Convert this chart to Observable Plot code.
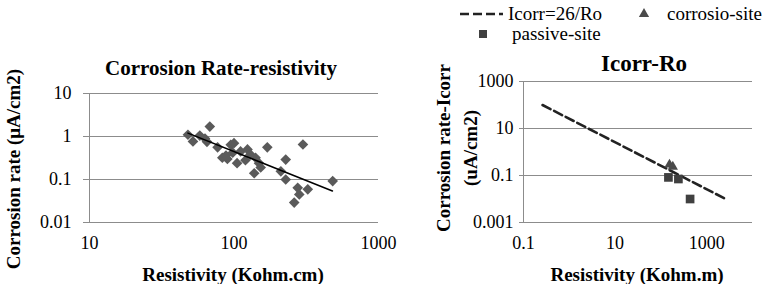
<!DOCTYPE html>
<html><head><meta charset="utf-8">
<script src="https://cdn.jsdelivr.net/npm/d3@7"></script>
<script src="https://cdn.jsdelivr.net/npm/@observablehq/plot@0.6"></script>
<style>
body{margin:0;background:#fff;}
#wrap{position:relative;width:775px;height:284px;overflow:hidden;background:#fff;font-family:'Liberation Serif',serif;}
#wrap svg{position:absolute;top:0;overflow:visible;font-family:'Liberation Serif',serif;}
#wrap svg text{font-family:'Liberation Serif',serif;}
</style></head><body><div id="wrap"></div>
<script>
const FONT = "Liberation Serif";
const GRID = "#8c8c8c";

// ---- Left panel: Corrosion Rate-resistivity ----
const resistivity   = [48, 52, 68, 63, 65, 58, 77, 83, 90, 95, 100, 105, 111, 124, 130, 141, 149, 138, 153, 170, 211, 228, 228, 300, 276, 324, 261, 482, 283, 88, 98, 120];
const corrosionRate = [1.1, 0.77, 1.7, 0.9, 0.75, 1.05, 0.56, 0.32, 0.3, 0.64, 0.7, 0.24, 0.45, 0.5, 0.38, 0.32, 0.24, 0.14, 0.19, 0.56, 0.155, 0.29, 0.1, 0.65, 0.064, 0.059, 0.029, 0.092, 0.045, 0.36, 0.42, 0.28];
const trendX = [48, 480];
const trendY = [1.2, 0.054];
const leftXTicks = [10, 100, 1000];
const leftXTickLabels = ["10", "100", "1000"];
const leftYTicks = [0.01, 0.1, 1, 10];
const leftYTickLabels = ["0.01", "0.1", "1", "10"];
const leftTitle = "Corrosion Rate-resistivity";
const leftXTitle = "Resistivity (Kohm.cm)";
const leftYTitle = "Corrosion rate (μA/cm2)";

// ---- Right panel: Icorr-Ro ----
const lineRo = [0.26, 2800];
const lineIcorr = [100, 0.0093];
const corrosionSiteRo = [154, 182];
const corrosionSiteIcorr = [0.29, 0.237];
const passiveSiteRo = [146, 241, 434];
const passiveSiteIcorr = [0.083, 0.071, 0.01];
const rightXTicks = [0.1, 10, 1000];
const rightXTickLabels = ["0.1", "10", "1000"];
const rightYTicks = [0.001, 0.1, 10, 1000];
const rightYTickLabels = ["0.001", "0.1", "10", "1000"];
const rightTitle = "Icorr-Ro";
const rightXTitle = "Resistivity (Kohm.m)";
const rightYTitle = "Corrosion rate-Icorr\n(uA/cm2)";
const legendLabels = ["Icorr=26/Ro", "corrosio-site", "passive-site"];

const wrap = document.getElementById("wrap");
const fmt = (ticks, labels) => d => labels[ticks.indexOf(d)];
const serifize = svg => {
  svg.setAttribute("font-family", FONT);
  svg.querySelectorAll("g, text").forEach(t => t.setAttribute("font-family", FONT));
};

const leftData = resistivity.map((r, i) => ({r, c: corrosionRate[i]}));
const trendData = trendX.map((x, i) => ({x, y: trendY[i]}));

const left = Plot.plot({
  width: 390, height: 284,
  marginLeft: 89, marginRight: 12, marginTop: 93, marginBottom: 62,
  x: {type: "log", domain: [10, 1000]},
  y: {type: "log", domain: [0.01, 10]},
  style: {fontFamily: FONT, background: "transparent", overflow: "visible", color: "#000"},
  marks: [
    Plot.gridY(leftYTicks, {stroke: GRID, strokeOpacity: 1}),
    Plot.ruleX([10], {stroke: GRID}),
    Plot.axisY(leftYTicks, {tickSize: 6, tickPadding: 12, stroke: GRID, fontSize: 18, tickFormat: fmt(leftYTicks, leftYTickLabels), label: null}),
    Plot.axisX(leftXTicks, {tickSize: 0, tickPadding: 14, fontSize: 18, tickFormat: fmt(leftXTicks, leftXTickLabels), label: null}),
    Plot.dot(leftData, {x: "r", y: "c", symbol: "diamond2", r: 4.8, fill: "#5a5a5a"}),
    Plot.line(trendData, {x: "x", y: "y", stroke: "#000", strokeWidth: 1.5}),
    Plot.text([leftTitle], {frameAnchor: "top", dx: -13, dy: -25, lineAnchor: "middle", fontSize: 21, fontWeight: "bold"}),
    Plot.text([leftYTitle], {frameAnchor: "left", rotate: -90, textAnchor: "middle", lineAnchor: "middle", dx: -76, dy: 11, fontSize: 19, fontWeight: "bold"}),
    Plot.text([leftXTitle], {frameAnchor: "bottom", dx: -1, dy: 52, lineAnchor: "middle", fontSize: 19, fontWeight: "bold"})
  ]
});
serifize(left);
left.style.left = "0px";
wrap.appendChild(left);

const lineData = lineRo.map((x, i) => ({x, y: lineIcorr[i]}));
const corrData = corrosionSiteRo.map((x, i) => ({x, y: corrosionSiteIcorr[i]}));
const passData = passiveSiteRo.map((x, i) => ({x, y: passiveSiteIcorr[i]}));

const right = Plot.plot({
  width: 385, height: 284,
  marginLeft: 133, marginRight: 23, marginTop: 81, marginBottom: 62,
  x: {type: "log", domain: [0.1, 10000]},
  y: {type: "log", domain: [0.001, 1000]},
  style: {fontFamily: FONT, background: "transparent", overflow: "visible", color: "#000"},
  marks: [
    Plot.gridY(rightYTicks, {stroke: GRID, strokeOpacity: 1}),
    Plot.ruleX([0.1], {stroke: GRID}),
    Plot.axisY(rightYTicks, {tickSize: 4, tickPadding: 6, stroke: GRID, fontSize: 18, tickFormat: fmt(rightYTicks, rightYTickLabels), label: null}),
    Plot.axisX(rightXTicks, {tickSize: 0, tickPadding: 14, fontSize: 18, tickFormat: fmt(rightXTicks, rightXTickLabels), label: null}),
    Plot.line(lineData, {x: "x", y: "y", stroke: "#222", strokeWidth: 2.6, strokeDasharray: "9,4"}),
    Plot.dot(corrData, {x: "x", y: "y", symbol: "triangle", r: 3.8, fill: "#4a4a4a"}),
    Plot.dot(passData, {x: "x", y: "y", symbol: "square", r: 4.9, fill: "#404040"}),
    Plot.text([rightTitle], {frameAnchor: "top", dx: 6, dy: -18, lineAnchor: "middle", fontSize: 23, fontWeight: "bold"}),
    Plot.text([rightYTitle], {frameAnchor: "left", rotate: -90, textAnchor: "middle", lineAnchor: "middle", lineHeight: 1.42, dx: -69, dy: -4, fontSize: 19, fontWeight: "bold"}),
    Plot.text([rightXTitle], {frameAnchor: "bottom", dx: -1, dy: 52, lineAnchor: "middle", fontSize: 19, fontWeight: "bold"})
  ]
});
serifize(right);
right.style.left = "390px";
wrap.appendChild(right);

// ---- Legend (top right) ----
const leg = d3.create("svg").attr("width", 775).attr("height", 50)
  .attr("font-family", FONT).style("left", "0px").attr("font-size", 19);
leg.append("line").attr("x1", 460).attr("x2", 503).attr("y1", 14).attr("y2", 14)
  .attr("stroke", "#222").attr("stroke-width", 2.6).attr("stroke-dasharray", "9,4");
leg.append("text").attr("x", 508).attr("y", 14).attr("dy", "0.32em").attr("font-family", FONT).text(legendLabels[0]);
leg.append("path").attr("transform", "translate(644,14)").attr("fill", "#4a4a4a")
  .attr("d", d3.symbol(d3.symbolTriangle, Math.PI * 3.8 * 3.8)());
leg.append("text").attr("x", 667).attr("y", 14).attr("dy", "0.32em").attr("font-family", FONT).text(legendLabels[1]);
leg.append("path").attr("transform", "translate(483,34)").attr("fill", "#404040")
  .attr("d", d3.symbol(d3.symbolSquare, Math.PI * 4.5 * 4.5)());
leg.append("text").attr("x", 512).attr("y", 34).attr("dy", "0.32em").attr("font-family", FONT).text(legendLabels[2]);
wrap.appendChild(leg.node());
</script></body></html>
